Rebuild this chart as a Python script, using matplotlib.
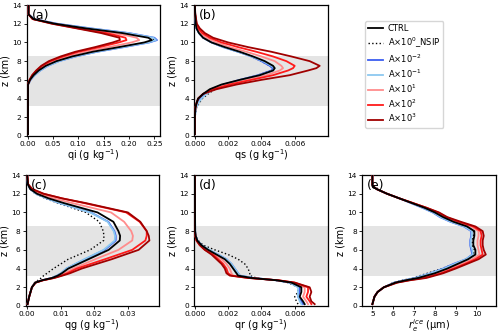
import matplotlib
matplotlib.use('Agg')
import matplotlib.pyplot as plt

# Rótulos e cores das simulações
labels = ['CTRL', 'A×10$^0$_NSIP', 'A×10$^{-2}$', 'A×10$^{-1}$',
          'A×10$^1$', 'A×10$^2$', 'A×10$^3$']
colors = ['black', 'black', '#3c5ef0', '#8cc8f0', '#ff8c8c', '#ff1a1a', '#a00000']
styles = ['-', ':', '-', '-', '-', '-', '-']

# (a) qi
z_qi = [0.2, 5.5, 6.0, 6.5, 7.0, 7.5, 8.0, 8.5, 9.0, 9.5, 10.0, 10.25, 10.5, 10.75, 11.0, 11.5, 12.0, 12.5, 13.0, 14.0]
qi_ctrl = [0.001, 0.001, 0.005, 0.012, 0.022, 0.036, 0.057, 0.088, 0.128, 0.18, 0.23, 0.245, 0.238, 0.212, 0.187, 0.115, 0.054, 0.012, 0.002, 0.002]
qi_nsip = [0.001, 0.001, 0.006, 0.013, 0.024, 0.039, 0.06, 0.092, 0.133, 0.186, 0.236, 0.25, 0.244, 0.22, 0.195, 0.12, 0.056, 0.012, 0.002, 0.002]
qi_m2 = [0.001, 0.001, 0.006, 0.014, 0.025, 0.04, 0.062, 0.095, 0.137, 0.19, 0.24, 0.255, 0.25, 0.225, 0.2, 0.125, 0.058, 0.013, 0.002, 0.002]
qi_m1 = [0.001, 0.001, 0.006, 0.014, 0.025, 0.04, 0.062, 0.094, 0.136, 0.188, 0.238, 0.253, 0.248, 0.223, 0.198, 0.123, 0.057, 0.013, 0.002, 0.002]
qi_p1 = [0.001, 0.001, 0.005, 0.011, 0.02, 0.032, 0.05, 0.078, 0.113, 0.16, 0.205, 0.22, 0.215, 0.195, 0.17, 0.108, 0.052, 0.011, 0.002, 0.002]
qi_p2 = [0.001, 0.001, 0.004, 0.01, 0.018, 0.029, 0.045, 0.07, 0.1, 0.142, 0.18, 0.195, 0.193, 0.175, 0.155, 0.1, 0.05, 0.01, 0.002, 0.002]
qi_p3 = [0.001, 0.001, 0.004, 0.009, 0.017, 0.027, 0.042, 0.065, 0.094, 0.133, 0.168, 0.182, 0.181, 0.163, 0.145, 0.097, 0.048, 0.01, 0.002, 0.002]

# (b) qs
z_qs = [0.2, 2.0, 3.0, 3.5, 4.0, 4.5, 5.0, 5.5, 6.0, 6.5, 7.0, 7.25, 7.5, 8.0, 8.5, 9.0, 9.5, 10.0, 10.5, 11.0, 11.5, 12.0, 13.0, 14.0]
qs_ctrl = [0, 0, 0.00003, 0.0001, 0.0002, 0.0005, 0.0009, 0.0016, 0.0027, 0.0039, 0.0047, 0.0048, 0.0047, 0.0042, 0.0035, 0.0027, 0.0018, 0.001, 0.0005, 0.00025, 0.0001, 0.00005, 0.00002, 0]
qs_nsip = [0, 0.00001, 0.0001, 0.00025, 0.00045, 0.0008, 0.0012, 0.0019, 0.0028, 0.0038, 0.0046, 0.0047, 0.0045, 0.004, 0.0034, 0.0026, 0.0017, 0.001, 0.0005, 0.00025, 0.0001, 0.00005, 0.00002, 0]
qs_m2 = [0, 0, 0.00005, 0.00015, 0.0003, 0.0006, 0.001, 0.0017, 0.0027, 0.0038, 0.0046, 0.0047, 0.0045, 0.004, 0.0034, 0.0026, 0.0017, 0.001, 0.0005, 0.00025, 0.0001, 0.00005, 0.00002, 0]
qs_m1 = [0, 0, 0.00008, 0.0002, 0.0004, 0.0007, 0.0011, 0.0018, 0.0028, 0.0039, 0.0047, 0.0048, 0.0046, 0.0041, 0.0034, 0.0026, 0.0017, 0.001, 0.0005, 0.00025, 0.0001, 0.00005, 0.00002, 0]
qs_p1 = [0, 0, 0.00003, 0.0001, 0.0002, 0.0005, 0.001, 0.0019, 0.0031, 0.0043, 0.0051, 0.0053, 0.0052, 0.0048, 0.004, 0.0031, 0.0021, 0.0013, 0.0007, 0.00035, 0.00015, 0.00007, 0.00002, 0]
qs_p2 = [0, 0, 0.00003, 0.0001, 0.0002, 0.0005, 0.0011, 0.0021, 0.0034, 0.0047, 0.0056, 0.0059, 0.006, 0.0055, 0.0047, 0.0037, 0.0026, 0.0016, 0.0009, 0.00045, 0.0002, 0.0001, 0.00002, 0]
qs_p3 = [0, 0, 0.00003, 0.0001, 0.0002, 0.0005, 0.0013, 0.0025, 0.004, 0.0057, 0.0068, 0.0073, 0.0075, 0.0069, 0.0058, 0.0046, 0.0032, 0.002, 0.0011, 0.0006, 0.0003, 0.00012, 0.00003, 0]

# (c) qg
z_qg = [0.2, 1.0, 2.0, 2.5, 2.75, 3.0, 3.25, 3.5, 4.0, 5.0, 6.0, 7.0, 7.5, 8.0, 9.0, 10.0, 11.0, 11.5, 12.0, 12.5, 13.0, 14.0]
qg_ctrl = [0.0002, 0.0007, 0.0015, 0.0025, 0.0045, 0.0075, 0.0092, 0.0104, 0.0123, 0.0183, 0.0243, 0.0276, 0.0277, 0.0272, 0.0257, 0.021, 0.011, 0.0065, 0.003, 0.001, 0.0003, 0.0001]
qg_nsip = [0.0002, 0.0007, 0.0015, 0.0023, 0.0033, 0.0043, 0.005, 0.006, 0.0079, 0.0123, 0.0188, 0.0228, 0.0229, 0.0227, 0.0215, 0.0175, 0.0092, 0.0055, 0.0025, 0.0009, 0.0003, 0.0001]
qg_m2 = [0.0002, 0.0007, 0.0015, 0.0025, 0.0045, 0.0074, 0.009, 0.0102, 0.0118, 0.0173, 0.0231, 0.0264, 0.0264, 0.026, 0.0242, 0.019, 0.0098, 0.006, 0.0028, 0.001, 0.0003, 0.0001]
qg_m1 = [0.0002, 0.0007, 0.0015, 0.0025, 0.0045, 0.0074, 0.009, 0.0101, 0.0117, 0.0171, 0.0228, 0.0261, 0.0262, 0.0258, 0.024, 0.0188, 0.0097, 0.0059, 0.0027, 0.001, 0.0003, 0.0001]
qg_p1 = [0.0002, 0.0007, 0.0015, 0.0026, 0.0047, 0.0078, 0.0097, 0.0112, 0.0138, 0.0203, 0.0272, 0.0313, 0.0315, 0.031, 0.0289, 0.025, 0.0135, 0.008, 0.0035, 0.0012, 0.0004, 0.0001]
qg_p2 = [0.0002, 0.0007, 0.0015, 0.0026, 0.0048, 0.008, 0.0102, 0.012, 0.0148, 0.0232, 0.0313, 0.0352, 0.0356, 0.0356, 0.0335, 0.0295, 0.017, 0.0105, 0.0048, 0.0015, 0.0004, 0.0001]
qg_p3 = [0.0002, 0.0007, 0.0015, 0.0026, 0.0048, 0.0082, 0.0106, 0.0128, 0.0163, 0.0252, 0.0332, 0.0364, 0.0362, 0.0356, 0.0337, 0.03, 0.0175, 0.0105, 0.005, 0.0016, 0.0004, 0.0001]

# (d) qr
z_qr = [0.2, 0.5, 1.0, 1.5, 2.0, 2.5, 2.75, 3.0, 3.25, 3.5, 4.0, 4.5, 5.0, 5.5, 6.0, 6.5, 7.0, 7.5, 8.0, 14.0]
qr_ctrl = [0.0066, 0.0065, 0.0063, 0.0064, 0.0064, 0.0058, 0.0049, 0.0034, 0.0026, 0.0025, 0.0023, 0.0021, 0.0018, 0.0013, 0.0008, 0.0004, 0.00015, 0.00005, 0.00002, 0]
qr_nsip = [0.0062, 0.0061, 0.006, 0.0062, 0.0062, 0.0056, 0.0048, 0.0037, 0.0033, 0.0033, 0.0032, 0.003, 0.0026, 0.002, 0.0012, 0.0005, 0.0002, 0.00005, 0.00002, 0]
qr_m2 = [0.0065, 0.0064, 0.0062, 0.0063, 0.0063, 0.0057, 0.0049, 0.0035, 0.0027, 0.0026, 0.0024, 0.0022, 0.0019, 0.0014, 0.0008, 0.0004, 0.00015, 0.00005, 0.00002, 0]
qr_m1 = [0.0064, 0.0063, 0.0062, 0.0062, 0.0062, 0.0057, 0.0049, 0.0035, 0.0027, 0.0026, 0.0024, 0.0022, 0.0019, 0.0014, 0.0009, 0.0004, 0.00015, 0.00005, 0.00002, 0]
qr_p1 = [0.0068, 0.0067, 0.0065, 0.0066, 0.0066, 0.0059, 0.005, 0.0033, 0.0023, 0.0022, 0.0021, 0.0019, 0.0016, 0.0012, 0.0007, 0.0003, 0.0001, 0.00004, 0.00001, 0]
qr_p2 = [0.007, 0.0069, 0.0067, 0.0068, 0.0068, 0.006, 0.005, 0.0032, 0.0022, 0.002, 0.0019, 0.0017, 0.0014, 0.0011, 0.0006, 0.0003, 0.0001, 0.00003, 0.00001, 0]
qr_p3 = [0.0072, 0.007, 0.0069, 0.007, 0.0069, 0.006, 0.005, 0.0032, 0.0021, 0.0019, 0.0018, 0.0016, 0.0013, 0.001, 0.0006, 0.0003, 0.0001, 0.00003, 0.00001, 0]

# (e) raio efetivo do gelo
z_re = [0.2, 1.0, 1.5, 2.0, 2.5, 2.75, 3.0, 3.5, 4.0, 4.5, 5.0, 5.5, 6.0, 6.5, 7.0, 7.5, 8.0, 8.5, 9.0, 9.5, 10.0, 10.5, 11.0, 11.5, 12.0, 12.5, 12.8, 13.0, 14.0]
re_ctrl = [5.0, 5.1, 5.25, 5.55, 6.1, 6.6, 7.2, 8.0, 8.6, 9.1, 9.6, 9.95, 9.95, 9.85, 9.85, 9.9, 9.9, 9.55, 8.9, 8.4, 8.0, 7.5, 6.9, 6.3, 5.7, 5.2, 5.02, 5.0, 5.0]
re_nsip = [5.0, 5.1, 5.25, 5.55, 6.0, 6.45, 6.95, 7.65, 8.35, 8.95, 9.5, 9.85, 9.9, 9.8, 9.8, 9.85, 9.85, 9.5, 8.85, 8.35, 7.95, 7.45, 6.9, 6.3, 5.7, 5.2, 5.02, 5.0, 5.0]
re_m2 = [5.0, 5.1, 5.25, 5.55, 6.05, 6.55, 7.05, 7.8, 8.4, 8.9, 9.5, 9.8, 9.75, 9.7, 9.7, 9.75, 9.75, 9.4, 8.75, 8.25, 7.9, 7.4, 6.85, 6.3, 5.7, 5.2, 5.02, 5.0, 5.0]
re_m1 = [5.0, 5.1, 5.25, 5.55, 6.05, 6.55, 7.05, 7.8, 8.45, 8.95, 9.5, 9.82, 9.8, 9.72, 9.72, 9.78, 9.78, 9.42, 8.78, 8.28, 7.92, 7.42, 6.87, 6.3, 5.7, 5.2, 5.02, 5.0, 5.0]
re_p1 = [5.0, 5.1, 5.25, 5.55, 6.15, 6.7, 7.35, 8.15, 8.75, 9.3, 9.8, 10.15, 10.1, 10.05, 10.05, 10.1, 10.1, 9.75, 9.05, 8.5, 8.1, 7.55, 6.95, 6.3, 5.7, 5.2, 5.02, 5.0, 5.0]
re_p2 = [5.0, 5.1, 5.25, 5.55, 6.15, 6.75, 7.45, 8.3, 8.9, 9.45, 9.95, 10.3, 10.25, 10.2, 10.2, 10.25, 10.2, 9.85, 9.15, 8.55, 8.15, 7.6, 6.95, 6.3, 5.7, 5.2, 5.02, 5.0, 5.0]
re_p3 = [5.0, 5.1, 5.25, 5.55, 6.2, 6.8, 7.6, 8.4, 9.0, 9.55, 10.1, 10.45, 10.35, 10.3, 10.3, 10.35, 10.3, 9.95, 9.25, 8.6, 8.2, 7.6, 6.95, 6.3, 5.7, 5.2, 5.02, 5.0, 5.0]

# Camada sombreada (km)
shade_bottom = 3.25
shade_top = 8.6

panels = [
    ('(a)', z_qi, [qi_ctrl, qi_nsip, qi_m2, qi_m1, qi_p1, qi_p2, qi_p3], 'qi (g kg$^{-1}$)', (-0.002, 0.261), [0, 0.05, 0.1, 0.15, 0.2, 0.25], '{:.2f}'),
    ('(b)', z_qs, [qs_ctrl, qs_nsip, qs_m2, qs_m1, qs_p1, qs_p2, qs_p3], 'qs (g kg$^{-1}$)', (-0.00005, 0.0080), [0, 0.002, 0.004, 0.006], '{:.3f}'),
    ('(c)', z_qg, [qg_ctrl, qg_nsip, qg_m2, qg_m1, qg_p1, qg_p2, qg_p3], 'qg (g kg$^{-1}$)', (-0.0004, 0.0391), [0, 0.01, 0.02, 0.03], '{:.2f}'),
    ('(d)', z_qr, [qr_ctrl, qr_nsip, qr_m2, qr_m1, qr_p1, qr_p2, qr_p3], 'qr (g kg$^{-1}$)', (-0.00005, 0.0080), [0, 0.002, 0.004, 0.006], '{:.3f}'),
    ('(e)', z_re, [re_ctrl, re_nsip, re_m2, re_m1, re_p1, re_p2, re_p3], '$r_e^{ice}$ (μm)', (4.5, 10.94), [5, 6, 7, 8, 9, 10], '{:.0f}'),
]

# Posições dos eixos em pixels (figura 500x333)
W, H = 500.0, 333.0
boxes = [(26.5, 5, 133.5, 131), (194, 5, 134, 131),
         (25.5, 175, 133, 131), (194, 175, 134, 131), (362, 175, 134, 131)]

fig = plt.figure(figsize=(5, 3.33), dpi=100)
lines = []
for (tag, z, series, xlabel, xlim, xticks, fmt), (x0, y0, w, h) in zip(panels, boxes):
    ax = fig.add_axes([x0 / W, 1 - (y0 + h) / H, w / W, h / H])
    ax.axhspan(shade_bottom, shade_top, color='#e4e4e4', lw=0, zorder=0)
    lines = []
    for k, vals in enumerate(series):
        zo = 5 if k == 0 else 3
        ln, = ax.plot(vals, z, color=colors[k], ls=styles[k], lw=1.3 if k != 1 else 1.0,
                      label=labels[k], zorder=zo)
        lines.append(ln)
    ax.set_xlim(*xlim)
    ax.set_ylim(0, 14)
    ax.set_yticks(range(0, 15, 2))
    ax.set_xticks(xticks)
    ax.set_xticklabels([fmt.format(t) for t in xticks])
    ax.tick_params(labelsize=5.3, length=2.5, width=0.6, pad=1.2)
    ax.set_xlabel(xlabel, fontsize=7, labelpad=0)
    ax.set_ylabel('z (km)', fontsize=7, labelpad=1)
    ax.text(0.04, 0.97, tag, transform=ax.transAxes, fontsize=9, va='top', ha='left')
    for s in ax.spines.values():
        s.set_linewidth(0.9)

fig.legend(lines, labels, loc='upper left', bbox_to_anchor=(365 / W, 1 - 21 / H),
           fontsize=6, frameon=True, borderpad=0.4, labelspacing=0.3,
           handlelength=1.7, handletextpad=0.6, borderaxespad=0)

plt.savefig('out.png', dpi=100)
